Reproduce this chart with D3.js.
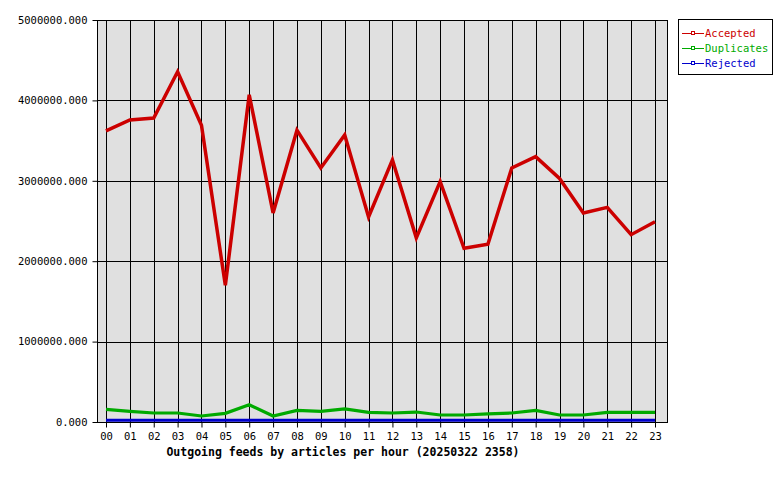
<!DOCTYPE html>
<html><head><meta charset="utf-8">
<script src="https://cdn.jsdelivr.net/npm/d3@7"></script>
<style>body{margin:0;background:#fff}svg{display:block}</style>
</head><body>
<svg id="c" width="780" height="480"></svg>
<script>
const hours = ["00","01","02","03","04","05","06","07","08","09","10","11","12","13","14","15","16","17","18","19","20","21","22","23"];
const accepted = [3620000,3756000,3780000,4357000,3690000,1700000,4070000,2600000,3630000,3160000,3570000,2550000,3260000,2290000,2990000,2160000,2210000,3160000,3300000,3030000,2600000,2670000,2330000,2490000];
const duplicates = [158000,133000,112000,112000,75000,108000,215000,75000,145000,133000,162000,120000,112000,124000,87000,87000,100000,112000,145000,87000,87000,120000,120000,120000];
const rejected = [22000,22000,22000,22000,22000,22000,22000,22000,22000,22000,22000,22000,22000,22000,22000,22000,22000,22000,22000,22000,22000,22000,22000,22000];
const yTicks = [0,1000000,2000000,3000000,4000000,5000000];
const seriesNames = ["Accepted","Duplicates","Rejected"];
const seriesColors = ["#cc0000","#00aa00","#0000cc"];
const title = "Outgoing feeds by articles per hour (20250322 2358)";

const svg = d3.select("#c");
const L=97, R=667, T=20, B=422;
const x = d3.scalePoint().domain(hours).range([106,655]);
const y = d3.scaleLinear().domain([0,5000000]).range([B,T]);
const mono = "'DejaVu Sans Mono','Liberation Mono',monospace";

svg.append("rect").attr("x",L).attr("y",T).attr("width",R-L).attr("height",B-T).attr("fill","#e0e0e0");

// grid
svg.append("g").selectAll("line").data(yTicks).join("line")
  .attr("x1",L).attr("x2",R).attr("y1",d=>Math.round(y(d))+0.5).attr("y2",d=>Math.round(y(d))+0.5)
  .attr("stroke","#000").attr("stroke-width",1);
svg.append("g").selectAll("line").data(hours).join("line")
  .attr("x1",d=>Math.round(x(d))+0.5).attr("x2",d=>Math.round(x(d))+0.5).attr("y1",T).attr("y2",B)
  .attr("stroke","#000").attr("stroke-width",1);

// axes
const ya = svg.append("g").attr("transform",`translate(${L+0.5},0)`)
  .call(d3.axisLeft(y).tickValues(yTicks).tickSize(5).tickPadding(5).tickFormat(d=>d.toFixed(3)));
const xa = svg.append("g").attr("transform",`translate(0,${B+0.5})`)
  .call(d3.axisBottom(x).tickSize(5).tickPadding(5));
[ya,xa].forEach(a=>{
  a.select(".domain").remove();
  a.selectAll("line").attr("stroke","#000");
  a.selectAll("text").attr("font-family",mono).attr("font-size","10.5px").attr("fill","#000");
});

// series
const data = [accepted,duplicates,rejected];
const line = d3.line().x((d,i)=>x(hours[i])).y(d=>y(d));
data.forEach((s,k)=>{
  svg.append("path").datum(s).attr("d",line).attr("fill","none")
    .attr("stroke",seriesColors[k]).attr("stroke-width",k===0?3.5:3.2).attr("stroke-linejoin","miter");
});

// border
svg.append("rect").attr("x",L+0.5).attr("y",T+0.5).attr("width",R-L).attr("height",B-T)
  .attr("fill","none").attr("stroke","#000");

// title
svg.append("text").attr("x",343).attr("y",456).attr("text-anchor","middle")
  .attr("font-family",mono).attr("font-weight","bold").attr("font-size","11.5px").text(title);

// legend
const lg = svg.append("g");
lg.append("rect").attr("x",678.5).attr("y",19.5).attr("width",94).attr("height",55).attr("fill","#fff").attr("stroke","#000");
seriesNames.forEach((n,k)=>{
  const yy = 33 + k*15;
  lg.append("line").attr("x1",682).attr("x2",704).attr("y1",yy+0.5).attr("y2",yy+0.5).attr("stroke",seriesColors[k]);
  lg.append("rect").attr("x",691.5).attr("y",yy-1.5).attr("width",3).attr("height",3).attr("fill","#fff").attr("stroke",seriesColors[k]);
  lg.append("text").attr("x",705).attr("y",yy+4).attr("font-family",mono).attr("font-size","10.5px")
    .attr("fill",seriesColors[k]).text(n);
});
</script>
</body></html>
